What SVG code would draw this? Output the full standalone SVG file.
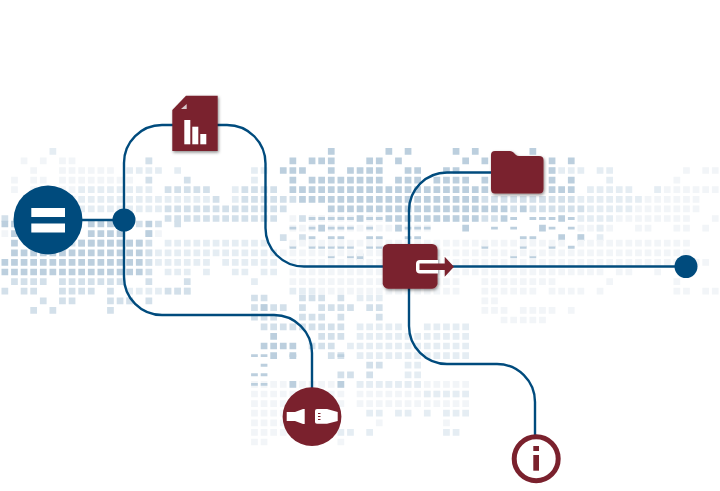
<svg xmlns="http://www.w3.org/2000/svg" width="720" height="491" viewBox="0 0 720 491">
<style>
.map path{fill:none;stroke-width:.7;stroke-dasharray:.7 .3}
.map path.b{stroke-width:.3}
.d{stroke:#bccfde}.m{stroke:#d3e0ea}.l{stroke:#e5edf3}.f{stroke:#f2f5f8}
.cn{fill:none;stroke:#004b7d;stroke-width:2.4}
.blue{fill:#004b7d}.red{fill:#7a212d}.wh{fill:#fff}
.sh{filter:url(#shadow)}
</style>
<defs><filter id="shadow" x="-20%" y="-20%" width="140%" height="140%"><feDropShadow dx="1" dy="1.5" stdDeviation="1.6" flood-color="#000" flood-opacity=".45"/></filter></defs>
<rect width="720" height="491" fill="#fff"/>
<g id="map" class="map">
<g transform="translate(1.5 151.3) scale(9.6)">
<path class="f" d="M2 1h1M4 1h1M6 1h2M15 1h1M3 2h1M6 2h6M1 3h1M3 3h2M6 3h8M1 4h1M3 4h1M6 4h2M71 2h1M73 2h2M70 3h1M68 4h5M73 4h2M67 5h6M66 6h7M64 7h8M74 7h1M60 8h4M66 8h2M70 8h2M73 8h1M30 7h10M30 8h15M45 7h5"/>
<path class="l" d="M5 0h1M13 2h4M18 2h1M8 4h8M6 5h16M24 5h1M6 6h11M26 2h2M26 3h1M24 4h1M57 2h4M62 2h2M63 3h1M61 4h5M68 4h1M60 5h7M61 6h5M60 7h4M62 8h1M60 9h1M62 9h1"/>
<path class="m" d="M15 1h1M15 3h1M19 3h1M17 4h5M25 4h4M22 5h1M25 5h6M17 6h8M25 6h5M0 7h1M17 7h8M25 7h4M31 7h1M29 9h1M31 9h1M50 5h10M53 6h1M55 6h1M56 6h5M50 7h2"/>
<path class="d" d="M34 0h1M40 0h1M42 0h1M47 0h1M49 0h1M55 0h1M30 1h1M32 1h3M38 1h2M41 1h1M48 1h1M50 1h1M57 1h1M59 1h1M29 2h3M34 2h1M36 2h4M42 2h2M46 2h2M57 2h1M30 3h1M32 3h8M41 3h3M45 3h4M50 3h1M57 3h1M59 3h1M30 4h20M50 4h1M57 4h3M31 5h19M34 6h16M50 6h3M54 6h1M37 7h1M40 7h10M52 7h1M58 7h1M41 8h1M33 8h1M48 8h1M56 8h1M58 9h1M60 9h1M37 11h1"/>
<path class="b d" d="M32 7h5M38 7h2M53 7h1M55 7h3M59 7h1M30 8h1M32 8h1M34 8h3M38 8h1M42 8h3M51 8h1M53 8h1M57 8h1M59 8h1M32 9h1M34 9h2M38 9h2M42 9h2M54 9h2M30 10h1M32 10h5M38 10h2M50 10h1M54 10h1M57 10h1M59 10h1M34 11h1M36 11h1M53 11h1M55 11h1"/>
</g>
<g transform="translate(1.5 224) scale(9.6)">
<path class="f" d="M0 1h1M16 1h1M30 2h20M50 2h9M60 2h12M29 3h21M50 3h10M60 3h12M30 4h20M50 4h24M30 5h20M50 5h13M64 5h2M68 5h1M30 6h18M50 6h8M63 6h1M70 6h1M33 7h15M50 7h6M57 7h4M62 7h1M70 7h2M73 7h2M50 8h2M55 9h1M50 9h3M54 9h4M59 9h1M52 10h5"/>
<path class="l" d="M25 2h3M25 3h4M25 4h4M25 5h1M27 5h2M26 6h1M30 7h3M17 2h8M15 3h10M15 4h7M23 4h2M17 5h3M21 5h1M24 5h1M13 7h4M18 7h2M13 8h1"/>
<path class="m" d="M16 0h1M18 0h1M14 0h1M15 1h1M6 2h9M15 2h1M15 3h1M15 4h1M15 5h1M15 6h1M19 6h1M11 7h1M11 8h3M15 8h1M11 9h1M3 9h1M5 9h1M4 8h1M6 8h2M0 7h1M2 7h2M6 7h4M17 7h3M1 6h4M6 6h7"/>
<path class="d" d="M0 0h2M9 0h4M15 0h1M1 1h1M9 1h4M15 1h1M1 2h1M8 2h7M1 3h14M0 4h15M0 5h15"/>
</g>
<g transform="translate(1.5 298) scale(9.6)">
<path class="f" d="M26 9h10M37 9h12M26 10h10M37 10h12M26 11h10M26 12h8M26 13h8M26 14h8M26 15h2M35 15h1M37 11h7M44 11h5M39 13h1M46 13h1"/>
<path class="l" d="M37 0h3M37 3h5M44 3h5M37 4h12M36 5h13M37 6h7M44 6h5M42 7h2M42 8h2M37 9h7M44 10h5M38 12h2M41 12h2M44 12h1M46 12h3M35 14h2M38 14h1M46 14h2"/>
<path class="m" d="M26 0h2M31 0h3M35 0h1M26 1h4M31 1h1M33 1h4M38 1h2M26 2h3M31 2h3M35 2h1M39 2h1M27 3h7M34 3h2M33 4h3M32 5h3M34 6h2M38 7h2M35 8h2M38 8h1"/>
<path class="d" d="M27 1h1M28 4h1M27 5h4M28 6h1M30 6h1M30 9h1M35 9h1"/>
<path class="b d" d="M26 6h2M30 6h1M35 6h1M27 7h1M26 8h2M26 9h2"/>
</g>
</g>
<g id="connectors">
<path class="cn" d="M48 220H124"/>
<path class="cn" d="M178 125H162A38 38 0 0 0 124 163V277A38 38 0 0 0 162 315H274A38 38 0 0 1 312 353V395"/>
<path class="cn" d="M212 125H227A38.500 38.500 0 0 1 265.500 163.500V228A38.500 38.500 0 0 0 304 266.500H390"/>
<path class="cn" d="M500 172.500H447A38 38 0 0 0 409 210.500V326A38 38 0 0 0 447 364H497A38 38 0 0 1 535 402V440"/>
<path class="cn" d="M450 266.500H686"/>
</g>
<g id="node-equals">
<circle class="blue" cx="48" cy="220" r="34.500"/>
<rect class="wh" x="31.300" y="208" width="33.700" height="9"/>
<rect class="wh" x="31.300" y="223.500" width="33.700" height="9"/>
</g>
<g id="junction-left"><circle class="blue" cx="124" cy="220" r="11.500"/></g>
<g id="junction-right"><circle class="blue" cx="686" cy="266.500" r="11.500"/></g>
<g id="node-document">
<path class="red sh" d="M172.300 110L186 95.700H217.700V151H172.300Z"/>
<path d="M181 109L186.700 104V109Z" fill="#d9c9cc"/>
<rect class="wh" x="184.300" y="120" width="6" height="24.300"/>
<rect class="wh" x="192.300" y="126.700" width="6" height="17.600"/>
<rect class="wh" x="200.300" y="134" width="6" height="10.300"/>
</g>
<g id="node-folder">
<path class="red sh" d="M495 151H510Q512 151 513.500 152.500L516 155Q517 156 519 156H539Q543.500 156 543.500 160V189Q543.500 193.500 539 193.500H495Q491 193.500 491 189V155Q491 151 495 151Z"/>
</g>
<g id="node-export">
<rect class="red sh" x="382.700" y="244" width="54.800" height="44.700" rx="5.500"/>
<path class="wh" d="M438 260H420Q416 260 416 264V269.500Q416 273.500 420 273.500H438Z"/>
<path class="red" d="M419.500 263.500H444.700V256.700L454 266.700L444.700 276.700V270H419.500Z"/>
</g>
<g id="node-plug">
<circle class="red" cx="312" cy="416.700" r="29.400"/>
<path class="wh" d="M286.700 412H295L303 409H304.700V424H303L295 421H286.700Z"/>
<path class="wh" d="M317 409H327L337.700 412V421L327 423.700H317Q315 423.700 315 422V411Q315 409 317 409Z"/>
<path class="red" d="M318 413h2.500v1h-2.500zM318 416h2.500v1h-2.500zM318 419h2.500v1h-2.500z"/>
</g>
<g id="node-info">
<circle cx="536.200" cy="458.800" r="22" fill="#fff" stroke="#7a212d" stroke-width="5"/>
<rect class="red" x="533.300" y="446" width="5.700" height="5"/>
<rect class="red" x="533.300" y="455" width="5.700" height="15.700"/>
</g>
</svg>
